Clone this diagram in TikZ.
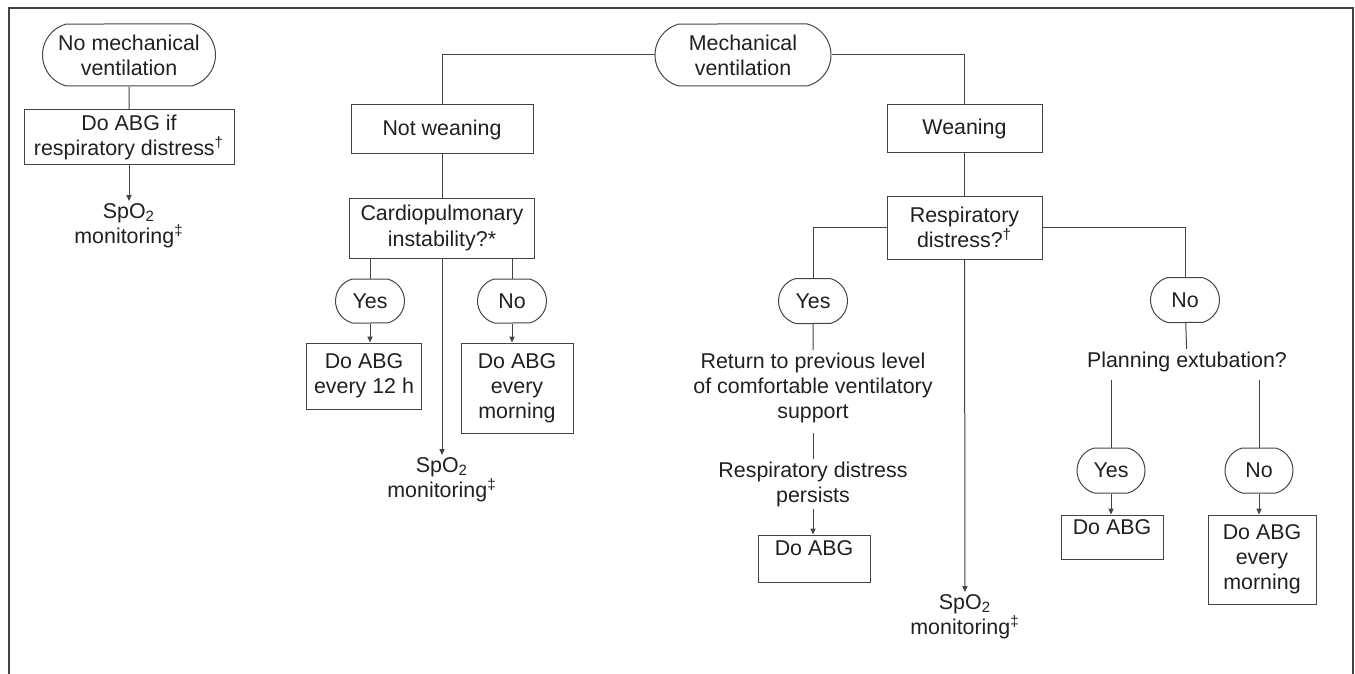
\documentclass[tikz,border=0pt]{standalone}
\usepackage{fontspec}
\setmainfont{Liberation Sans}
\usepackage{tikz}
\usetikzlibrary{arrows.meta, shapes.misc}
\definecolor{ink}{HTML}{231F20}
\definecolor{rule}{HTML}{444444}

\begin{document}
\begin{tikzpicture}[
    x=0.5pt, y=-0.5pt,
    color=rule, line width=0.5pt,
    >={Triangle[length=3pt, width=2.6pt]},
    every node/.style={text=ink, font=\fontsize{10.7}{12.6}\selectfont, align=center},
    terminal/.style={draw, rounded rectangle, rounded rectangle arc length=150, inner sep=1pt, #1},
    box/.style={draw, rectangle, inner sep=1pt, #1},
    plain/.style={inner sep=1pt},
]
    \useasboundingbox (0,0) rectangle (1355,674);

    % frame, open at the foot
    \draw[line width=1pt] (9,674) -- (9,8) -- (1353,8) -- (1353,674);

    % no mechanical ventilation
    \node[terminal={minimum width=88.5pt, minimum height=31pt}] (nomv) at (129,55) {No mechanical\\ventilation};
    \node[box={minimum width=105pt, minimum height=27.5pt}] (abgif) at (129,137.5) {Do ABG if\\respiratory distress\textsuperscript{†}};
    \node[plain, anchor=north] (spo2a) at (129,201) {SpO\textsubscript{2}\\monitoring\textsuperscript{‡}};
    \draw (nomv) -- (abgif);
    \draw[->] (abgif) -- (spo2a);

    % mechanical ventilation
    \node[terminal={minimum width=90pt, minimum height=31pt}] (mv) at (743,55) {Mechanical\\ventilation};

    % not weaning
    \node[box={minimum width=91pt, minimum height=24.5pt}] (notw) at (442,129.5) {Not weaning};
    \node[box={minimum width=92.5pt, minimum height=30pt}] (cardio) at (442,228) {Cardiopulmonary\\instability?*};
    \node[terminal={minimum width=36.5pt, minimum height=22pt}] (yes1) at (370,301) {Yes};
    \node[terminal={minimum width=36.5pt, minimum height=22pt}] (no1) at (512,301) {No};
    \node[box={minimum width=57.5pt, minimum height=33pt}] (abg12) at (364,376) {Do ABG\\every 12 h};
    \node[box={minimum width=56pt, minimum height=45pt}] (abgm1) at (517,388) {Do ABG\\every\\morning};
    \node[plain, anchor=north] (spo2b) at (442,455) {SpO\textsubscript{2}\\monitoring\textsuperscript{‡}};
    \draw (mv.west) -| (notw.north);
    \draw (notw) -- (cardio);
    \draw (yes1.north |- cardio.south) -- (yes1.north);
    \draw (no1.north |- cardio.south) -- (no1.north);
    \draw[->] (yes1.south) -- (yes1.south |- abg12.north);
    \draw[->] (no1.south) -- (no1.south |- abgm1.north);
    \draw[->] (cardio) -- (spo2b);

    % weaning
    \node[box={minimum width=77.5pt, minimum height=24pt}] (wean) at (964.5,129) {Weaning};
    \node[box={minimum width=77.5pt, minimum height=31.5pt}] (resp) at (964.5,227.5) {Respiratory\\distress?\textsuperscript{†}};
    \draw (mv.east) -| (wean.north);
    \draw (wean) -- (resp);

    % respiratory distress: yes
    \node[terminal={minimum width=36.5pt, minimum height=22.5pt}] (yes2) at (813,301) {Yes};
    \node[plain, anchor=north] (ret) at (813,350) {Return to previous level\\of comfortable ventilatory\\support};
    \node[plain, anchor=north] (pers) at (813,459) {Respiratory distress\\persists};
    \node[box={minimum width=56pt, minimum height=23.5pt}] (abg2) at (814,558.5) {Do ABG\\[-2pt]\mbox{}};
    \draw (resp.west) -| (yes2.north);
    \draw (yes2) -- (ret);
    \draw (ret.south) ++(0,8) -- (pers.north);
    \draw[->] (pers.south) -- (pers.south |- abg2.north);

    % respiratory distress: none
    \node[plain, anchor=north] (spo2c) at (965,592) {SpO\textsubscript{2}\\monitoring\textsuperscript{‡}};
    \draw[->] (resp) -- (spo2c);

    % respiratory distress: no
    \node[terminal={minimum width=36.5pt, minimum height=22.5pt}] (no2) at (1185,300) {No};
    \node[plain, anchor=north] (plan) at (1187,349) {Planning extubation?};
    \node[terminal={minimum width=36pt, minimum height=22.5pt}] (yes3) at (1111,470.5) {Yes};
    \node[terminal={minimum width=36pt, minimum height=22.5pt}] (no3) at (1259,470.5) {No};
    \node[box={minimum width=51pt, minimum height=22pt}] (abg3) at (1112,537) {Do ABG\\[-3pt]\mbox{}};
    \node[box={minimum width=54pt, minimum height=44.5pt}] (abgm3) at (1262,559.5) {Do ABG\\every\\morning};
    \draw (resp.east) -| (no2.north);
    \draw (no2) -- (plan);
    \draw (yes3.north |- plan.south) ++(0,6) -- (yes3.north);
    \draw (no3.north |- plan.south) ++(0,6) -- (no3.north);
    \draw[->] (yes3.south) -- (yes3.south |- abg3.north);
    \draw[->] (no3.south) -- (no3.south |- abgm3.north);
\end{tikzpicture}
\end{document}
